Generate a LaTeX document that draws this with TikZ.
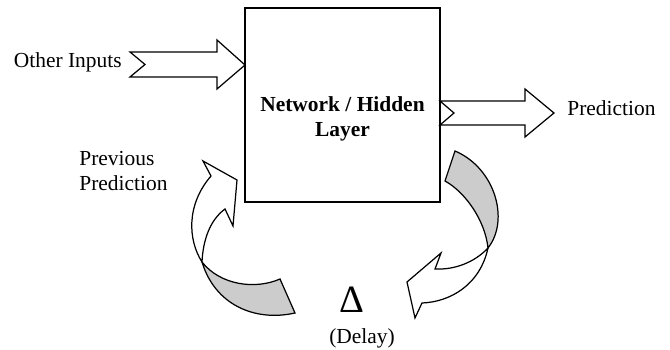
\documentclass[tikz,border=0pt]{standalone}
\usepackage{fontspec}
\setmainfont{Liberation Serif}
\usetikzlibrary{positioning}

\begin{document}
\begin{tikzpicture}[x=0.02cm, y=-0.02cm,
  txt/.style={font=\fontsize{12.2}{14.2}\selectfont, inner sep=0pt},
  boldtxt/.style={font=\fontsize{12.2}{14.2}\selectfont\bfseries, inner sep=0pt},
  bigarrow/.style={draw, line width=0.7pt, fill=white, line join=miter},
  backside/.style={draw, line width=0.7pt, fill=gray!40},
]
  \useasboundingbox (0,0) rectangle (670,350);
  % Hidden layer box
  \node[draw, line width=0.9pt, minimum width=3.9cm, minimum height=3.88cm]
    (net) at (342.5,105) {};
  \node[boldtxt, align=center, anchor=north] (netlabel) at (342.5,96)
    {Network / Hidden\\Layer};
  % Straight block arrows (notched tail)
  \coordinate (intip) at (245,65);
  \draw[bigarrow] (130,52) -- (217,52) -- (217,40) -- (intip)
    -- (217,89) -- (217,77) -- (130,77) -- (145,64.5) -- cycle;
  \coordinate (outtip) at (554,113);
  \draw[bigarrow] (440,101) -- (525,101) -- (525,89) -- (outtip)
    -- (525,137) -- (525,125) -- (440,125) -- (454,113) -- cycle;
  % Feedback arrow into the box (twisted ribbon)
  \coordinate (fbx) at (202,262);
  \draw[backside] (fbx) .. controls (220,285) and (255,290) .. (280,279)
    -- (295,313) .. controls (255,322) and (215,305) .. (fbx) -- cycle;
  \draw[bigarrow] (fbx) .. controls (188,240) and (186,205) .. (211,176)
    -- (203,161) -- (237,180) -- (233,226) -- (225,209)
    .. controls (210,220) and (203,240) .. (fbx) -- cycle;
  % Delay arrow out of the box
  \coordinate (dlx) at (488,248);
  \draw[backside] (455,151) .. controls (495,168) and (510,220) .. (dlx)
    .. controls (485,220) and (465,192) .. (445,181) -- cycle;
  \draw[bigarrow] (dlx) .. controls (475,262) and (455,270) .. (435,269)
    -- (441,253) -- (407,282) -- (415,318) -- (422,303)
    .. controls (450,302) and (480,285) .. (dlx) -- cycle;
  % Labels
  \node[txt, anchor=base east] (others) at (122,68) {Other Inputs};
  \node[txt, anchor=base west] (pred) at (567,116) {Prediction};
  \node[txt, anchor=north west, align=left] (prev) at (79,151)
    {Previous\\Prediction};
  \node[font=\fontsize{22}{24}\selectfont, inner sep=0pt, anchor=base]
    (delta) at (352,313) {Δ};
  \node[txt, anchor=base] (delay) at (362,344) {(Delay)};
\end{tikzpicture}
\end{document}
